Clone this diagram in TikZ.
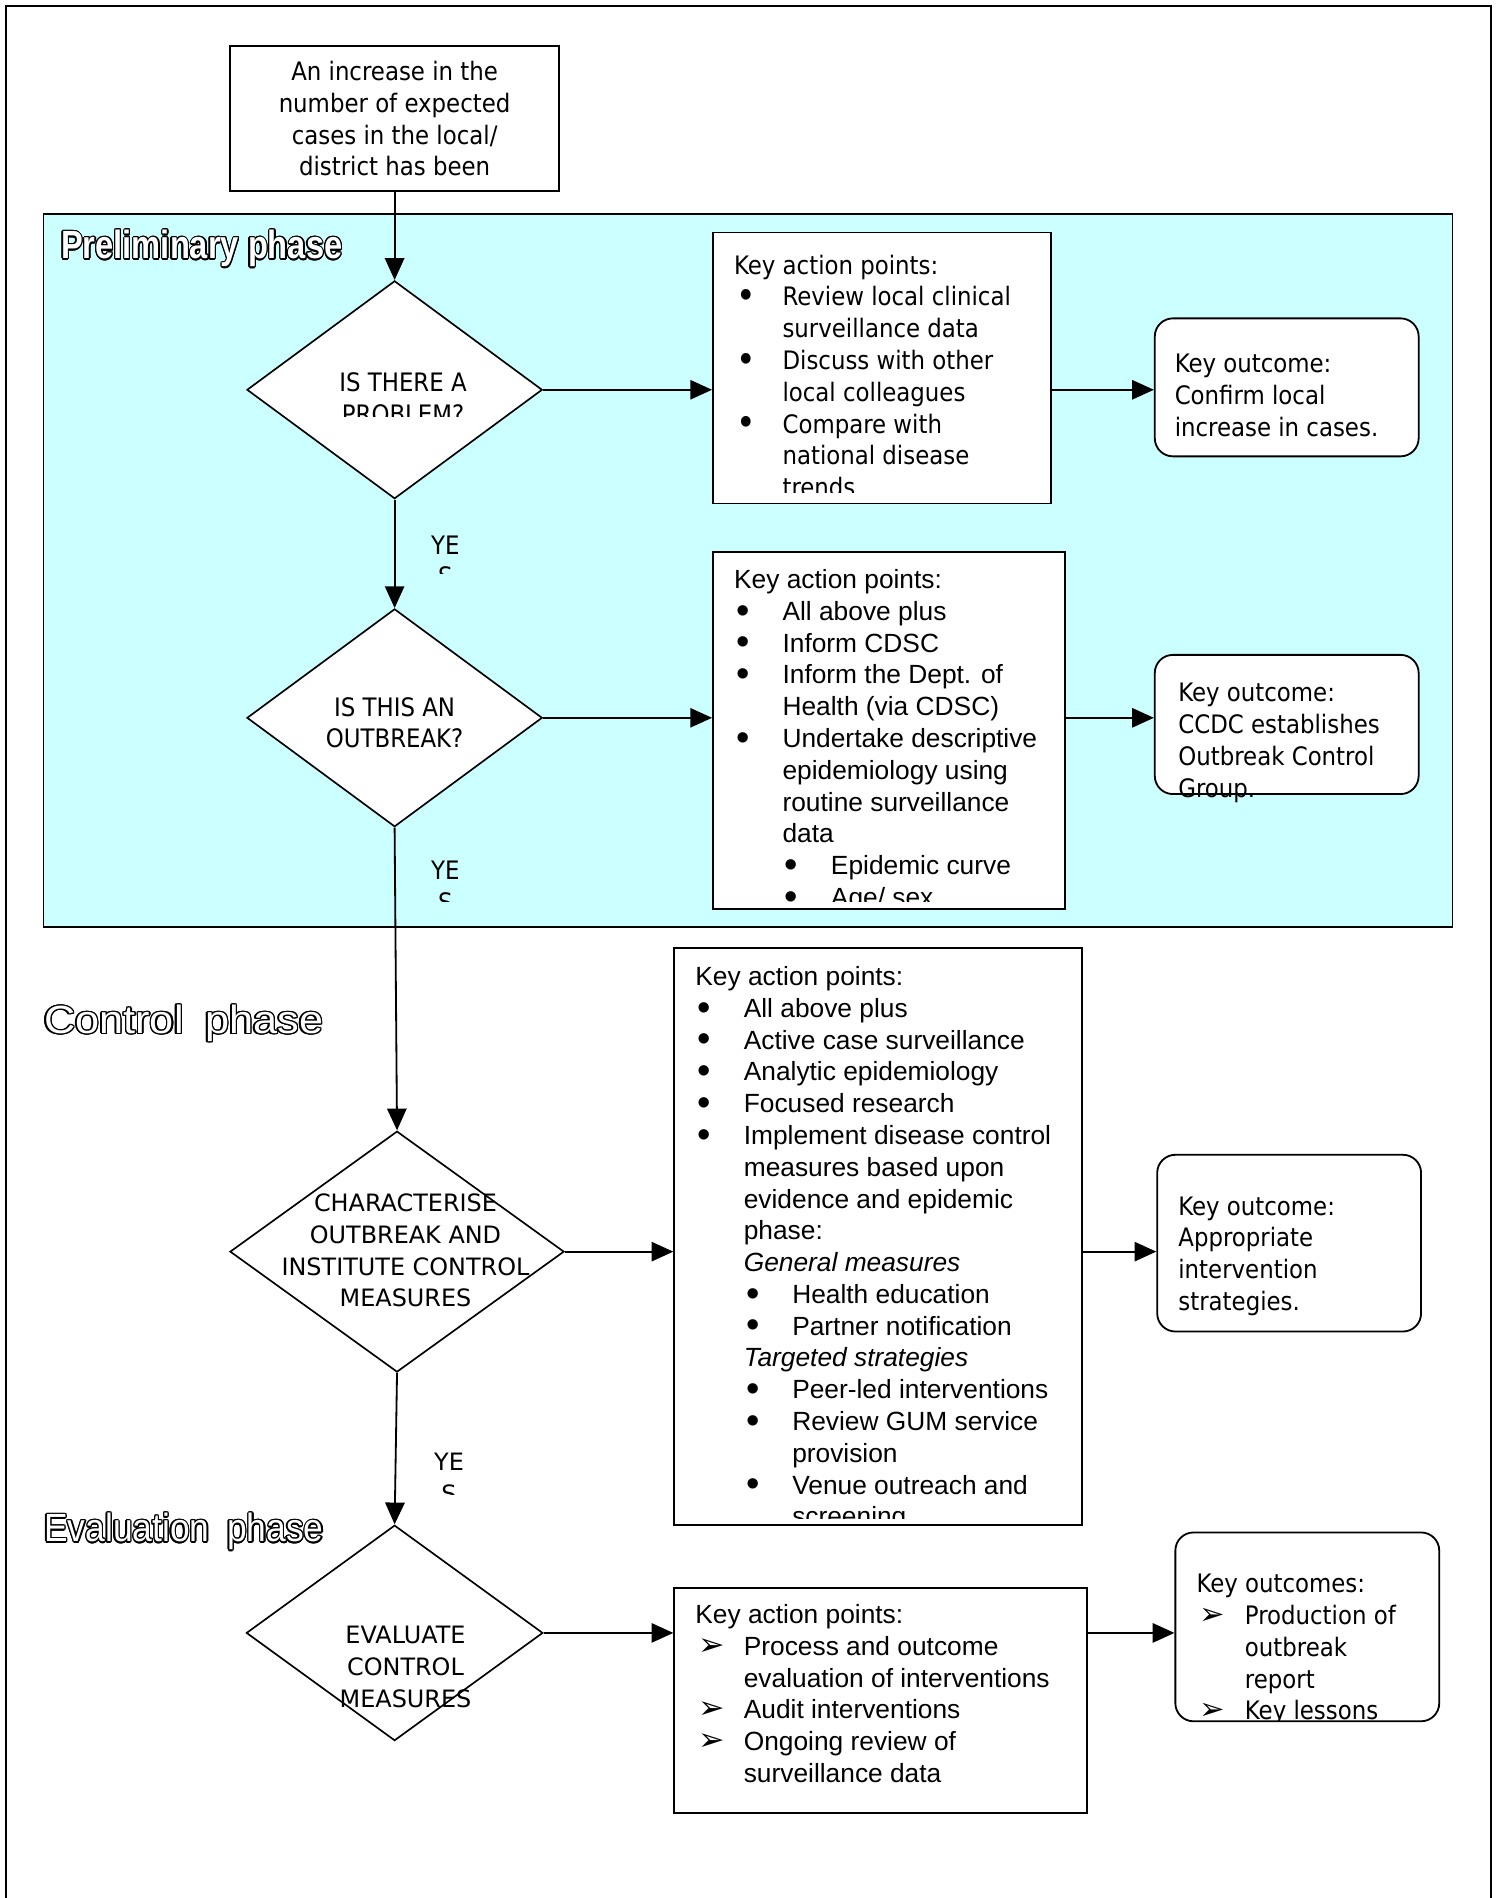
\documentclass[tikz,border=0pt]{standalone}
\usepackage{fontspec}
\setmainfont{Liberation Sans}
\newfontfamily\condfont{DejaVu Sans Condensed}
\newfontfamily\widefont{DejaVu Sans}
\usepackage{graphicx}
\usepackage[copies]{contour}
\usetikzlibrary{shapes.geometric,arrows.meta,positioning}
\definecolor{prelimcyan}{RGB}{204,255,255}
\contourlength{0.45pt}

% one px of the layout grid
\newcommand{\pxu}{0.4pt}
% list lines
\newcommand{\bigdot}{\smash{\raisebox{-0.2ex}{\scalebox{1.45}{\textbullet}}}}
\newcommand{\bul}[1]{\makebox[16pt][l]{\hspace{0.8pt}\bigdot}#1}
\newcommand{\bulc}[1]{\hspace*{16pt}#1}
\newcommand{\subbul}[1]{\hspace*{16pt}\makebox[16pt][l]{\hspace{0.8pt}\bigdot}#1}
\newcommand{\subc}[1]{\hspace*{32pt}#1}
\newcommand{\arrbul}[1]{\makebox[16pt][l]{\hspace{1pt}\smash{\scalebox{1.2}{\widefont ➢}}}#1}

\begin{document}
\begin{tikzpicture}[x=0.4pt, y=-0.4pt,
  box/.style={draw, line width=0.6pt, fill=white, inner sep=0pt},
  outbox/.style={box, rounded corners=6pt},
  dia/.style={diamond, draw, line width=0.55pt, fill=white, inner sep=0pt},
  sz/.style 2 args={minimum width=#1*\pxu, minimum height=#2*\pxu},
  tahoma/.style={inner sep=0pt, align=left, anchor=north west,
    font=\condfont\fontsize{8.4}{10.5}\selectfont},
  arial/.style={inner sep=0pt, align=left, anchor=north west,
    font=\fontsize{8.7}{10.5}\selectfont},
  caps/.style={inner sep=0pt, align=center,
    font=\widefont\fontsize{7.9}{10.5}\selectfont},
  capsn/.style={inner sep=0pt, align=center,
    font=\condfont\fontsize{8.4}{10.5}\selectfont},
  phase/.style={inner sep=0pt, anchor=west, font=\fontsize{13}{15}\selectfont},
  arr/.style={-{Triangle[length=7.2pt, width=6.4pt]}, line width=0.6pt},
]
  \useasboundingbox (0,0) rectangle (1238,1568);
  % page frame and shaded phase
  \draw[line width=0.6pt] (5,1590) -- (5,5) -- (1232,5) -- (1232,1590);
  \draw[line width=0.6pt, fill=prelimcyan] (36,177) rectangle (1200,766);

  % phase titles
  \node[phase] (prelimt) at (50,206) {\scalebox{0.83}[1]{\textcolor{white}{\contour{black}{\textbf{Preliminary phase}}}}};
  \node[phase] (controlt) at (36,846) {\scalebox{1.1}[1]{\textcolor{white}{\contour{black}{Control\hspace{0.5em}phase}}}};
  \node[phase] (evalt) at (36,1266) {\scalebox{0.9}[1]{\textcolor{white}{\contour{black}{Evaluation\hspace{0.5em}phase}}}};

  % start
  \node[box, sz={272}{120}, align=center,
    font=\condfont\fontsize{8.4}{10.5}\selectfont] (start) at (326,98)
    {An increase in the\\number of expected\\cases in the local/\\district has been};

  % decisions
  \node[dia, sz={244}{180}] (d1) at (326,322) {};
  \node[dia, sz={244}{180}] (d2) at (326,593) {};
  \node[dia, sz={276}{199}] (d3) at (328,1034) {};
  \node[dia, sz={245}{178}] (d4) at (326,1349) {};
  \begin{scope}
    \clip (265,295) rectangle (405,344);
    \node[capsn] (d1t) at (333,329) {IS THERE A\\PROBLEM?};
  \end{scope}
  \node[capsn] (d2t) at (326,597) {IS THIS AN\\OUTBREAK?};
  \node[caps] (d3t) at (335,1033) {CHARACTERISE\\OUTBREAK AND\\INSTITUTE CONTROL\\MEASURES};
  \node[caps] (d4t) at (335,1377) {EVALUATE\\CONTROL\\MEASURES};

  % action boxes
  \node[box, sz={279}{224}] (a1) at (728.5,304) {};
  \node[box, sz={291}{295}] (a2) at (734.5,603.5) {};
  \node[box, sz={337}{477}] (a3) at (725.5,1021.5) {};
  \node[box, sz={341}{186}] (a4) at (727.5,1405) {};
  \begin{scope}
    \clip (a1.north west) rectangle ([yshift=4pt]a1.south east);
    \node[tahoma] (a1t) at (606,210) {Key action points:\\
      \bul{Review local clinical}\\ \bulc{surveillance data}\\
      \bul{Discuss with other}\\ \bulc{local colleagues}\\
      \bul{Compare with}\\ \bulc{national disease}\\ \bulc{trends}};
  \end{scope}
  \begin{scope}
    \clip (a2.north west) rectangle ([yshift=2.8pt]a2.south east);
    \node[arial] (a2t) at (606,470) {Key action points:\\
      \bul{All above plus}\\ \bul{Inform CDSC}\\
      \bul{Inform the Dept. of}\\ \bulc{Health (via CDSC)}\\
      \bul{Undertake descriptive}\\ \bulc{epidemiology using}\\
      \bulc{routine surveillance}\\ \bulc{data}\\
      \subbul{Epidemic curve}\\ \subbul{Age/ sex}};
  \end{scope}
  \begin{scope}
    \clip (a3.north west) rectangle ([yshift=2.4pt]a3.south east);
    \node[arial] (a3t) at (574,798) {Key action points:\\
      \bul{All above plus}\\ \bul{Active case surveillance}\\
      \bul{Analytic epidemiology}\\ \bul{Focused research}\\
      \bul{Implement disease control}\\ \bulc{measures based upon}\\
      \bulc{evidence and epidemic}\\ \bulc{phase:}\\
      \bulc{\textit{General measures}}\\
      \subbul{Health education}\\ \subbul{Partner notification}\\
      \bulc{\textit{Targeted strategies}}\\
      \subbul{Peer-led interventions}\\ \subbul{Review GUM service}\\
      \subc{provision}\\ \subbul{Venue outreach and}\\ \subc{screening}};
  \end{scope}
  \node[arial] (a4t) at (574,1325) {Key action points:\\
    \arrbul{Process and outcome}\\ \bulc{evaluation of interventions}\\
    \arrbul{Audit interventions}\\
    \arrbul{Ongoing review of}\\ \bulc{surveillance data}};

  % outcomes
  \node[outbox, sz={218}{114}] (o1) at (1063,320) {};
  \node[outbox, sz={218}{115}] (o2) at (1063,598.5) {};
  \node[outbox, sz={218}{146}] (o3) at (1065,1027) {};
  \node[outbox, sz={218}{156}] (o4) at (1080,1344) {};
  \node[tahoma] (o1t) at (970,292) {Key outcome:\\Confirm local\\increase in cases.};
  \node[tahoma] (o2t) at (973,564) {Key outcome:\\CCDC establishes\\Outbreak Control\\Group.};
  \node[tahoma] (o3t) at (973,988) {Key outcome:\\Appropriate\\intervention\\strategies.};
  \begin{scope}
    \clip (o4.north west) rectangle ([yshift=0.6pt]o4.south east);
    \node[tahoma] (o4t) at (988,1300) {Key outcomes:\\
      \arrbul{Production of}\\ \bulc{outbreak}\\ \bulc{report}\\
      \arrbul{Key lessons}};
  \end{scope}

  % yes labels
  \begin{scope}
    \clip (340,430) rectangle (400,474);
    \node[capsn, anchor=north] (yes1) at (368,442) {YE\\S};
  \end{scope}
  \begin{scope}
    \clip (340,700) rectangle (400,745);
    \node[capsn, anchor=north] (yes2) at (368,711) {YE\\S};
  \end{scope}
  \begin{scope}
    \clip (340,1190) rectangle (400,1235);
    \node[caps, anchor=north] (yes3) at (371,1200) {YE\\S};
  \end{scope}

  % flow down
  \draw[arr] (start.south) -- (d1.north);
  \draw[arr] (d1.south) -- (d2.north);
  \draw[arr] (d2.south) -- (d3.north);
  \draw[arr] (d3.south) -- (d4.north);
  % flow across
  \draw[arr] (d1.east) -- (d1.east -| a1.west);
  \draw[arr] (d1.east -| a1.east) -- (d1.east -| o1.west);
  \draw[arr] (d2.east) -- (d2.east -| a2.west);
  \draw[arr] (d2.east -| a2.east) -- (d2.east -| o2.west);
  \draw[arr] (d3.east) -- (d3.east -| a3.west);
  \draw[arr] (d3.east -| a3.east) -- (d3.east -| o3.west);
  \draw[arr] (d4.east) -- (d4.east -| a4.west);
  \draw[arr] (d4.east -| a4.east) -- (d4.east -| o4.west);
\end{tikzpicture}
\end{document}
